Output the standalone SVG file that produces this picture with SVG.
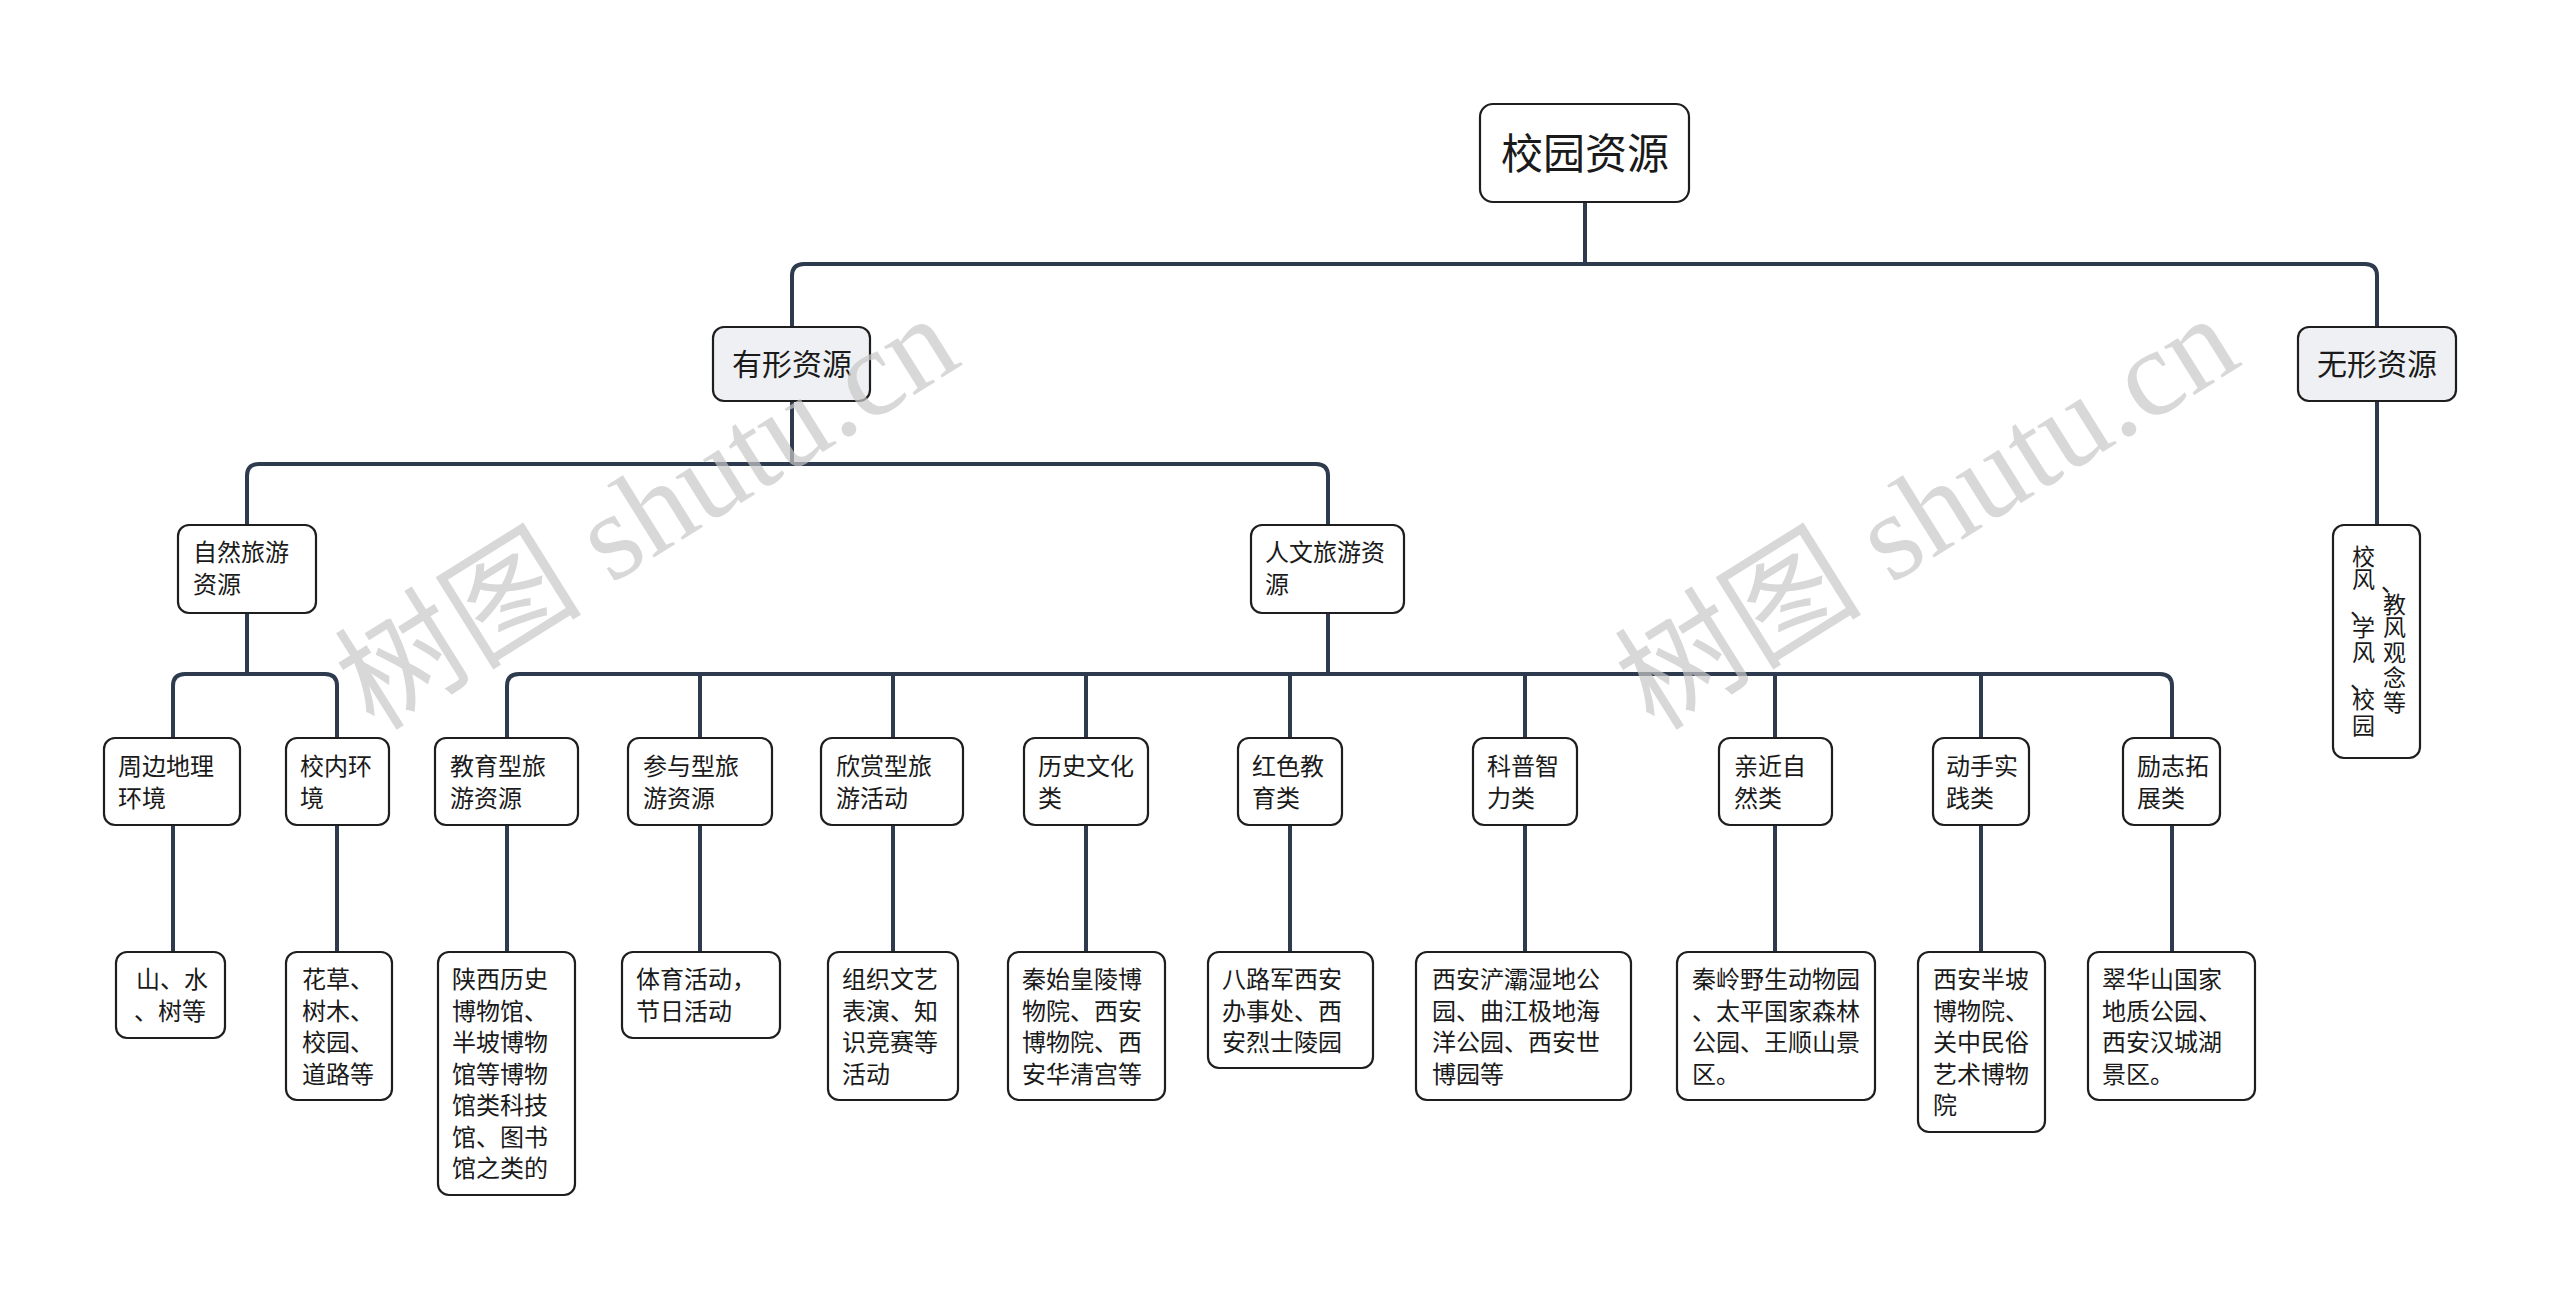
<svg xmlns="http://www.w3.org/2000/svg" width="2560" height="1299" viewBox="0 0 2560 1299">
<style>
.bg{fill:#ffffff}
.n rect{fill:#ffffff;stroke:#1e1e1e;stroke-width:2.2}
.n.l1 rect{fill:#eef0f3}
.n text{font-family:"Noto Sans CJK SC","Noto Sans",sans-serif;fill:#1a1a1a;font-size:24px}
.n.root text{font-size:42px}
.n.l1 text{font-size:30px}
.n.v text{font-size:23px}
.c path{fill:none;stroke:#2e3b4e;stroke-width:4;stroke-linecap:butt}
.wm{font-family:"Liberation Serif","Noto Sans CJK SC",serif;font-size:124px;fill:#c8c8c8;opacity:0.7}
</style>
<rect class="bg" x="0" y="0" width="2560" height="1299"/>
<g class="c" id="connectors">
<path d="M1585 202V264"/>
<path d="M792 327V276Q792 264 804 264H2365Q2377 264 2377 276V327"/>
<path d="M792 401V464"/>
<path d="M247 525V476Q247 464 259 464H1316Q1328 464 1328 476V525"/>
<path d="M2377 401V525"/>
<path d="M247 613V674"/>
<path d="M173 738V686Q173 674 185 674H325Q337 674 337 686V738"/>
<path d="M1328 613V674"/>
<path d="M507 738V686Q507 674 519 674H2160Q2172 674 2172 686V738"/>
<path d="M700 674V738M893 674V738M1086 674V738M1290 674V738M1525 674V738M1775 674V738M1981 674V738"/>
<path d="M173 825V952M337 825V952M507 825V952M700 825V952M893 825V952M1086 825V952M1290 825V952M1525 825V952M1775 825V952M1981 825V952M2172 825V952"/>
</g>
<g class="n root" id="n-root"><rect x="1480" y="104" width="209" height="98" rx="13"/><text x="1585" y="169" text-anchor="middle">校园资源</text></g>
<g class="n l1" id="n-youxing"><rect x="713" y="327" width="157" height="74" rx="11"/><text x="792" y="375" text-anchor="middle">有形资源</text></g>
<g class="n l1" id="n-wuxing"><rect x="2298" y="327" width="158" height="74" rx="11"/><text x="2377" y="375" text-anchor="middle">无形资源</text></g>
<g class="n" id="n-ziran"><rect x="178" y="525" width="138" height="88" rx="11"/><text x="193" y="561">自然旅游</text><text x="193" y="593">资源</text></g>
<g class="n" id="n-renwen"><rect x="1251" y="525" width="153" height="88" rx="11"/><text x="1265" y="561">人文旅游资</text><text x="1265" y="593">源</text></g>
<g class="n v" id="n-xiaofeng"><rect x="2333" y="525" width="87" height="233" rx="11"/>
<text><tspan x="2352" y="565">校</tspan><tspan x="2352" y="588">风</tspan><tspan x="2350" y="616">、</tspan><tspan x="2352" y="636">学</tspan><tspan x="2352" y="661">风</tspan><tspan x="2350" y="689">、</tspan><tspan x="2352" y="708">校</tspan><tspan x="2352" y="734">园</tspan></text>
<text><tspan x="2381" y="591">、</tspan><tspan x="2383" y="613">教</tspan><tspan x="2383" y="636">风</tspan><tspan x="2383" y="661">观</tspan><tspan x="2383" y="686">念</tspan><tspan x="2383" y="711">等</tspan></text>
</g>
<g class="n" id="n-zhoubian"><rect x="104" y="738" width="136" height="87" rx="11"/><text x="118" y="775">周边地理</text><text x="118" y="807">环境</text></g>
<g class="n" id="n-xiaonei"><rect x="286" y="738" width="103" height="87" rx="11"/><text x="300" y="775">校内环</text><text x="300" y="807">境</text></g>
<g class="n" id="n-jiaoyu"><rect x="435" y="738" width="143" height="87" rx="11"/><text x="450" y="775">教育型旅</text><text x="450" y="807">游资源</text></g>
<g class="n" id="n-canyu"><rect x="628" y="738" width="144" height="87" rx="11"/><text x="643" y="775">参与型旅</text><text x="643" y="807">游资源</text></g>
<g class="n" id="n-xinshang"><rect x="821" y="738" width="142" height="87" rx="11"/><text x="836" y="775">欣赏型旅</text><text x="836" y="807">游活动</text></g>
<g class="n" id="n-lishi"><rect x="1024" y="738" width="124" height="87" rx="11"/><text x="1038" y="775">历史文化</text><text x="1038" y="807">类</text></g>
<g class="n" id="n-hongse"><rect x="1238" y="738" width="104" height="87" rx="11"/><text x="1252" y="775">红色教</text><text x="1252" y="807">育类</text></g>
<g class="n" id="n-kepu"><rect x="1473" y="738" width="104" height="87" rx="11"/><text x="1487" y="775">科普智</text><text x="1487" y="807">力类</text></g>
<g class="n" id="n-qinjin"><rect x="1719" y="738" width="113" height="87" rx="11"/><text x="1734" y="775">亲近自</text><text x="1734" y="807">然类</text></g>
<g class="n" id="n-dongshou"><rect x="1933" y="738" width="96" height="87" rx="11"/><text x="1946" y="775">动手实</text><text x="1946" y="807">践类</text></g>
<g class="n" id="n-lizhi"><rect x="2123" y="738" width="97" height="87" rx="11"/><text x="2137" y="775">励志拓</text><text x="2137" y="807">展类</text></g>
<g class="n" id="n-shanshui"><rect x="116" y="952" width="109" height="86" rx="11"/><text x="136" y="988">山、水</text><text x="134" y="1019.5">、树等</text></g>
<g class="n" id="n-huacao"><rect x="286" y="952" width="106" height="148" rx="11"/><text x="302" y="988">花草、</text><text x="302" y="1019.5">树木、</text><text x="302" y="1051">校园、</text><text x="302" y="1082.5">道路等</text></g>
<g class="n" id="n-shaanxi"><rect x="438" y="952" width="137" height="243" rx="11"/><text x="452" y="988">陕西历史</text><text x="452" y="1019.5">博物馆、</text><text x="452" y="1051">半坡博物</text><text x="452" y="1082.5">馆等博物</text><text x="452" y="1114">馆类科技</text><text x="452" y="1145.5">馆、图书</text><text x="452" y="1177">馆之类的</text></g>
<g class="n" id="n-tiyu"><rect x="622" y="952" width="158" height="86" rx="11"/><text x="636" y="988">体育活动，</text><text x="636" y="1019.5">节日活动</text></g>
<g class="n" id="n-zuzhi"><rect x="828" y="952" width="130" height="148" rx="11"/><text x="842" y="988">组织文艺</text><text x="842" y="1019.5">表演、知</text><text x="842" y="1051">识竞赛等</text><text x="842" y="1082.5">活动</text></g>
<g class="n" id="n-qinshi"><rect x="1008" y="952" width="157" height="148" rx="11"/><text x="1022" y="988">秦始皇陵博</text><text x="1022" y="1019.5">物院、西安</text><text x="1022" y="1051">博物院、西</text><text x="1022" y="1082.5">安华清宫等</text></g>
<g class="n" id="n-balujun"><rect x="1208" y="952" width="165" height="116" rx="11"/><text x="1222" y="988">八路军西安</text><text x="1222" y="1019.5">办事处、西</text><text x="1222" y="1051">安烈士陵园</text></g>
<g class="n" id="n-chanba"><rect x="1416" y="952" width="215" height="148" rx="11"/><text x="1432" y="988">西安浐灞湿地公</text><text x="1432" y="1019.5">园、曲江极地海</text><text x="1432" y="1051">洋公园、西安世</text><text x="1432" y="1082.5">博园等</text></g>
<g class="n" id="n-qinling"><rect x="1677" y="952" width="198" height="148" rx="11"/><text x="1692" y="988">秦岭野生动物园</text><text x="1692" y="1019.5">、太平国家森林</text><text x="1692" y="1051">公园、王顺山景</text><text x="1692" y="1082.5">区。</text></g>
<g class="n" id="n-banpo"><rect x="1918" y="952" width="127" height="180" rx="11"/><text x="1933" y="988">西安半坡</text><text x="1933" y="1019.5">博物院、</text><text x="1933" y="1051">关中民俗</text><text x="1933" y="1082.5">艺术博物</text><text x="1933" y="1114">院</text></g>
<g class="n" id="n-cuihua"><rect x="2088" y="952" width="167" height="148" rx="11"/><text x="2102" y="988">翠华山国家</text><text x="2102" y="1019.5">地质公园、</text><text x="2102" y="1051">西安汉城湖</text><text x="2102" y="1082.5">景区。</text></g>
<g id="watermark">
<text class="wm" transform="translate(648 514) rotate(-32)" x="0" y="40" text-anchor="middle">树图 shutu.cn</text>
<text class="wm" transform="translate(1928 514) rotate(-32)" x="0" y="40" text-anchor="middle">树图 shutu.cn</text>
</g>
</svg>
